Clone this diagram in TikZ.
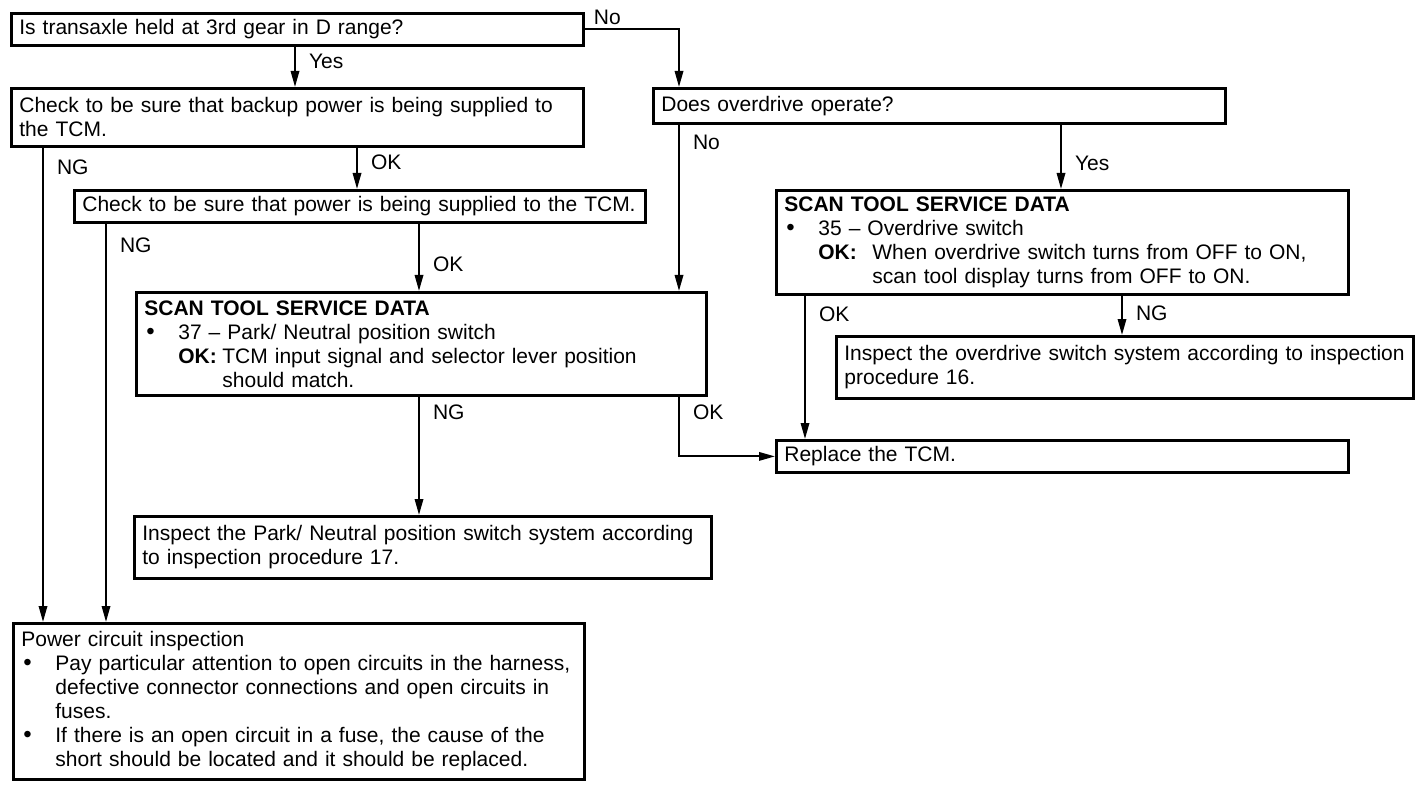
\documentclass[tikz,border=0pt]{standalone}
\usepackage{fontspec}
\setmainfont{Liberation Sans}
\usetikzlibrary{arrows.meta}
\newcommand{\bulletbox}{\makebox[17pt][l]{\hspace{1pt}{\large\textbullet}}}

\begin{document}
\begin{tikzpicture}[x=0.5pt, y=-0.5pt,
	box/.style={draw, line width=1.4pt, anchor=north west, align=left, inner xsep=4pt, inner ysep=2pt, text width=#1},
	box/.default=278pt,
	arr/.style={line width=1pt, -{Triangle[length=8pt,width=4.2pt]}},
	lbl/.style={right=6.5pt, inner sep=0pt},
	font=\fontsize{10.5}{12}\selectfont]
	\useasboundingbox (0,0) rectangle (1424,786);
	% left column
	\node[box, minimum height=16pt] (A) at (10,12) {Is transaxle held at 3rd gear in D range?};
	\node[box, minimum height=29pt] (B) at (10,87) {Check to be sure that backup power is being supplied to\\the TCM.};
	\node[box=277.5pt, minimum height=16pt] (D) at (73,189) {\mbox{Check to be sure that power is being supplied to the TCM.}};
	\node[box=277pt, minimum height=51.5pt] (E) at (135,291) {\textbf{SCAN TOOL SERVICE DATA}\\
		\bulletbox 37 -- Park/ Neutral position switch\\
		\hspace*{17pt}\makebox[22pt][l]{\textbf{OK:}}TCM input signal and selector lever position\\
		\hspace*{39pt}should match.};
	\node[box=280.5pt, minimum height=31pt] (F) at (133,515) {Inspect the Park/ Neutral position switch system according\\to inspection procedure 17.};
	\node[box=277.5pt, minimum height=78pt] (J) at (12,622) {Power circuit inspection\\
		\bulletbox Pay particular attention to open circuits in the harness,\\
		\hspace*{17pt}defective connector connections and open circuits in\\
		\hspace*{17pt}fuses.\\
		\bulletbox If there is an open circuit in a fuse, the cause of the\\
		\hspace*{17pt}short should be located and it should be replaced.};
	% right column
	\node[box, minimum height=17.5pt] (C) at (652,87) {Does overdrive operate?};
	\node[box, minimum height=52pt] (G) at (775,189) {\textbf{SCAN TOOL SERVICE DATA}\\
		\bulletbox 35 -- Overdrive switch\\
		\hspace*{17pt}\makebox[27pt][l]{\textbf{OK:}}When overdrive switch turns from OFF to ON,\\
		\hspace*{44pt}scan tool display turns from OFF to ON.};
	\node[box=280.5pt, minimum height=31pt] (H) at (835,335) {\mbox{Inspect the overdrive switch system according to inspection}\\procedure 16.};
	\node[box, minimum height=16pt] (I) at (775,439) {Replace the TCM.};
	% connectors
	\draw[arr] (A.east) -| node[pos=.12, above=2pt, inner sep=0pt] (no1) {No} (C.north -| 679,0);
	\draw[arr] (A.south -| 295,0) -- node[lbl, pos=.37] (yes1) {Yes} (B.north -| 295,0);
	\draw[arr] (B.south -| 43,0) -- node[lbl, pos=.042] (ng1) {NG} (J.north -| 43,0);
	\draw[arr] (B.south -| 357,0) -- node[lbl, pos=.34] (ok1) {OK} (D.north -| 357,0);
	\draw[arr] (D.south -| 106,0) -- node[lbl, pos=.055] (ng2) {NG} (J.north -| 106,0);
	\draw[arr] (D.south -| 419,0) -- node[lbl, pos=.6] (ok2) {OK} (E.north -| 419,0);
	\draw[arr] (C.south -| 679,0) -- node[lbl, pos=.107] (no2) {No} (E.north -| 679,0);
	\draw[arr] (E.south -| 419,0) -- node[lbl, pos=.13] (ng3) {NG} (F.north -| 419,0);
	\draw[arr] (E.south -| 679,0) |- node[lbl, pos=.13] (ok3) {OK} (I.west);
	\draw[arr] (C.south -| 1061,0) -- node[lbl, pos=.6] (yes2) {Yes} (G.north -| 1061,0);
	\draw[arr] (G.south -| 805,0) -- node[lbl, pos=.13] (ok4) {OK} (I.north -| 805,0);
	\draw[arr] (G.south -| 1122,0) -- node[lbl, pos=.45] (ng4) {NG} (H.north -| 1122,0);
\end{tikzpicture}
\end{document}
